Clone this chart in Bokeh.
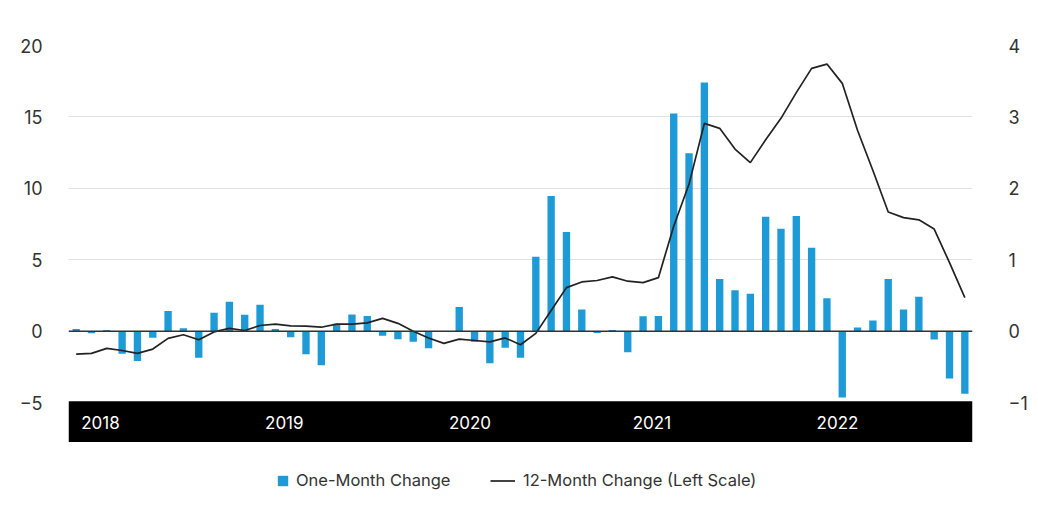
from bokeh.plotting import figure
from bokeh.models import (Range1d, LinearAxis, FixedTicker, Span, BoxAnnotation,
                          Legend, LegendItem, ColumnDataSource)
from bokeh.core.properties import value
from bokeh.embed import file_html
from bokeh.resources import INLINE

# ---- data ----
months = [f"{y}-{m:02d}" for y in range(2018, 2023) for m in range(1, 13)][:59]

one_month = [0.16, -0.15, 0.08, -1.57, -2.09, -0.45, 1.41, 0.21, -1.85, 1.29, 2.07, 1.15,
             1.85, 0.16, -0.42, -1.62, -2.39, 0.52, 1.17, 1.06, -0.31, -0.56, -0.73, -1.20,
             0.02, 1.69, -0.73, -2.25, -1.15, -1.85, 5.22, 9.46, 6.95, 1.52, -0.12, 0.09,
             -1.47, 1.05, 1.07, 15.24, 12.45, 17.41, 3.66, 2.87, 2.63, 8.02, 7.18, 8.07,
             5.85, 2.31, -4.64, 0.26, 0.75, 3.66, 1.52, 2.42, -0.58, -3.31, -4.38]

twelve_month = [-0.32, -0.31, -0.24, -0.27, -0.31, -0.25, -0.10, -0.05, -0.12, -0.01, 0.04, 0.01,
                0.08, 0.10, 0.075, 0.07, 0.056, 0.10, 0.10, 0.117, 0.18, 0.11, 0.0, -0.094,
                -0.17, -0.11, -0.13, -0.15, -0.094, -0.19, -0.03, 0.29, 0.61, 0.69, 0.71, 0.76,
                0.70, 0.68, 0.75, 1.47, 2.06, 2.91, 2.84, 2.55, 2.36, 2.68, 2.98, 3.34,
                3.68, 3.74, 3.47, 2.81, 2.25, 1.67, 1.59, 1.56, 1.43, 0.96, 0.47]

year_labels = ["2018", "2019", "2020", "2021", "2022"]
left_ticks = [-5, 0, 5, 10, 15, 20]
right_ticks = [-1, 0, 1, 2, 3, 4]

BAR_COLOR = "#1e9bd7"
FONT = "Inter"
TEXT_COLOR = "#333333"
Y_MIN = -11.85          # room below the chart for the year band and the legend
RATIO = 5.0             # left scale / right scale

src = ColumnDataSource(dict(x=list(range(len(months))), month=months,
                            one_month=one_month, twelve_month=twelve_month))

p = figure(width=1030, height=509, x_range=Range1d(-0.5, len(months) - 0.5),
           y_range=Range1d(Y_MIN, 20), x_axis_location=None,
           output_backend="svg", toolbar_location=None,
           min_border_left=68, min_border_right=57, min_border_top=45, min_border_bottom=9)
p.outline_line_color = None
p.background_fill_color = "white"
p.border_fill_color = "white"
p.xgrid.visible = False

p.extra_y_ranges = {"right": Range1d(Y_MIN / RATIO, 20 / RATIO)}
p.add_layout(LinearAxis(y_range_name="right"), "right")

for ax in p.yaxis:
    ax.axis_line_color = None
    ax.major_tick_line_color = None
    ax.minor_tick_line_color = None
    ax.major_label_text_font = FONT
    ax.major_label_text_font_size = "18px"
    ax.major_label_text_color = TEXT_COLOR
p.yaxis[0].ticker = FixedTicker(ticks=left_ticks)
p.yaxis[0].major_label_overrides = {t: str(t).replace("-", "\u2212") for t in left_ticks}
p.yaxis[0].major_label_standoff = 20
p.yaxis[1].ticker = FixedTicker(ticks=right_ticks)
p.yaxis[1].major_label_overrides = {t: str(t).replace("-", "\u2212") for t in right_ticks}
p.yaxis[1].major_label_standoff = 30

p.ygrid.ticker = FixedTicker(ticks=[t for t in left_ticks if t > 0])
p.ygrid.grid_line_color = "#e0e0e0"
p.ygrid.grid_line_width = 1

# black year band
band = BoxAnnotation(top=left_ticks[0] + 0.1, bottom=-7.75, fill_color="black", fill_alpha=1,
                     line_color=None, level="underlay")
p.add_layout(band)

bars = p.vbar(x="x", top="one_month", bottom=0, width=0.48, source=src,
              fill_color=BAR_COLOR, line_color=None)

p.add_layout(Span(location=0, dimension="width", line_color="#333333", line_width=1.5))

line = p.line(x="x", y="twelve_month", source=src, y_range_name="right",
              line_color="#222222", line_width=1.7)

year_src = ColumnDataSource(dict(x=[months.index(f"{y}-01") for y in year_labels],
                                 y=[-6.4] * len(year_labels), text=year_labels))
p.text(x="x", y="y", text="text", source=year_src, x_offset=5,
       text_color="white", text_font=value(FONT), text_font_size="17px",
       text_baseline="middle", text_align="left")

legend_style = dict(orientation="horizontal", border_line_color=None, background_fill_alpha=0,
                    label_text_font=FONT, label_text_font_size="16.5px",
                    label_text_color=TEXT_COLOR, padding=0, margin=0)

legend_bars = Legend(items=[LegendItem(label="One-Month Change", renderers=[bars])],
                     location=(208, 10), glyph_width=13, glyph_height=13,
                     label_standoff=7, **legend_style)
legend_line = Legend(items=[LegendItem(label="12-Month Change (Left Scale)", renderers=[line])],
                     location=(422, 10), glyph_width=25, glyph_height=13,
                     label_standoff=8, **legend_style)
p.add_layout(legend_bars)
p.add_layout(legend_line)

open("out.html", "w").write(file_html(p, INLINE))
